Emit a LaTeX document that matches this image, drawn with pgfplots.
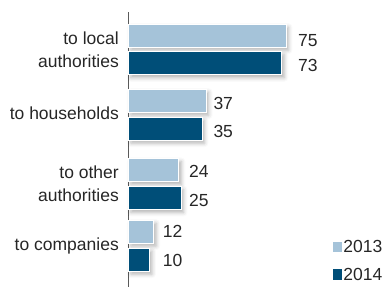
\documentclass[border=0pt]{standalone}
\usepackage{pgfplots}
\pgfplotsset{compat=1.18}
\usepackage{fontspec}
\setmainfont{Liberation Sans}
\usetikzlibrary{shadows.blur}
\definecolor{c13}{HTML}{A5C3D9}
\definecolor{c14}{HTML}{004E78}
\definecolor{txt}{HTML}{262626}
\definecolor{axisgray}{HTML}{5A5A5A}
\newcommand{\lblfont}{\fontsize{17.5}{23}\selectfont}
\begin{document}
\begin{tikzpicture}
\begin{axis}[
  at={(128.5pt,0pt)}, anchor=south west,
  scale only axis, width=255.5pt, height=275pt,
  xmin=0, xmax=121.7, ymin=0, ymax=275,
  axis x line=none, axis y line*=left,
  y axis line style={-, draw=axisgray, line width=1.3pt},
  ytick={237,173.5,103,41},
  yticklabels={{to local\\authorities},{to households},{to other\\authorities},{to companies}},
  major tick length=0pt,
  yticklabel style={align=right, inner sep=0pt, xshift=-9.5pt, font=\lblfont, text=txt},
  clip=false,
  legend image code/.code={\fill[#1, draw=none] (0pt,-5.3pt) rectangle (9pt,5.3pt);},
  legend style={draw=none, fill=none, at={(axis cs:97.3,47)}, anchor=north west,
    inner sep=0pt, row sep=14pt, column sep=1.5pt, font=\lblfont, text=txt,
    nodes={inner sep=0pt}},
  legend cell align=left,
]
\addplot[xbar, bar width=23pt, bar shift=0pt, fill=c13, draw=white, line width=0.8pt,
  blur shadow={shadow xshift=2.5pt, shadow yshift=-3pt, shadow blur radius=4pt, shadow opacity=30},
  forget plot]
  coordinates {(75,251.3) (37,186.3) (24,117) (12,55.3)};
\addplot[xbar, bar width=23pt, bar shift=0pt, fill=c14, draw=white, line width=0.8pt,
  blur shadow={shadow xshift=2.5pt, shadow yshift=-3pt, shadow blur radius=4pt, shadow opacity=30},
  forget plot]
  coordinates {(73,223.7) (35,158.3) (25,89) (10,27.3)};
\addplot[draw=none, mark=none, forget plot, point meta=explicit symbolic,
  nodes near coords={\pgfplotspointmeta},
  nodes near coords style={anchor=west, inner sep=0pt, font=\lblfont, text=txt}]
  table[meta=v] {
x y v
80.7 246.2 75
80.7 222 73
40.4 183.7 37
40.4 155.3 35
28.8 115.3 24
28.8 87 25
16.3 55.3 12
16.3 27 10
};
\addlegendimage{fill=c13}
\addlegendentry{2013}
\addlegendimage{fill=c14}
\addlegendentry{2014}
\end{axis}
\pgfresetboundingbox
\path[use as bounding box] (0,0) rectangle (384pt,287pt);
\end{tikzpicture}
\end{document}
